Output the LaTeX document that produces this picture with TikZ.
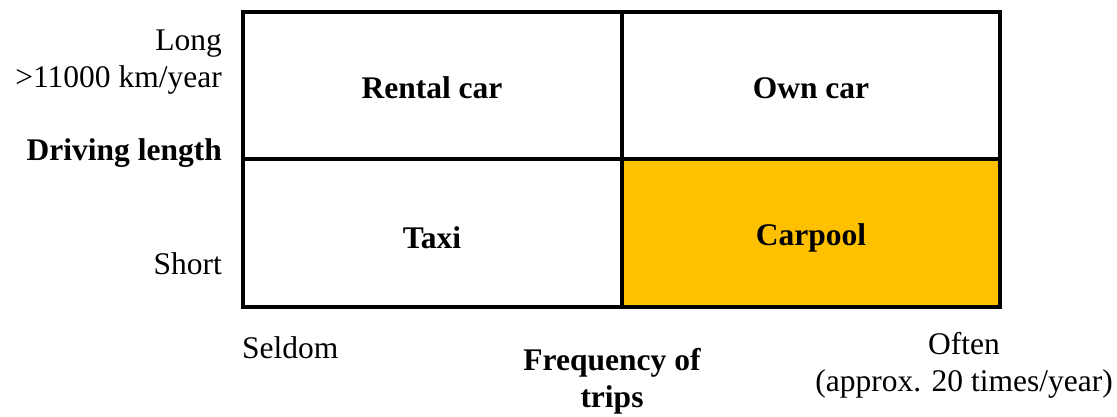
\documentclass[tikz,border=0pt]{standalone}
\usepackage{fontspec}
\setmainfont{Liberation Serif}
\definecolor{carpool}{HTML}{FFC000}
\begin{document}
\begin{tikzpicture}[x=1pt,y=-1pt,
  txt/.style={inner sep=0pt,font=\fontsize{31.5}{37}\selectfont},
  btxt/.style={txt,font=\fontsize{31.5}{37}\selectfont\bfseries},
  cell/.style={draw=black,line width=4pt}]
\useasboundingbox (0,0) rectangle (1117,417);
\fill[carpool] (622,159) rectangle (1000,307);
\draw[cell] (243,12) rectangle (1000,307);
\draw[cell] (622,12) -- (622,307);
\draw[cell] (243,159) -- (1000,159);
\node[btxt] (rc) at (432,88) {Rental car};
\node[btxt] (oc) at (811,88) {Own car};
\node[btxt] (tx) at (432,238) {Taxi};
\node[btxt] (cp) at (811,238) {Carpool};
\node[txt,anchor=east,align=right] (long) at (222,62) {Long\\>11000 km/year};
\node[btxt,anchor=east] (dl) at (222,153) {Driving length};
\node[txt,anchor=east] (sh) at (222,264) {Short};
\node[txt,anchor=west] (sel) at (242,348) {Seldom};
\node[btxt,align=center] (fr) at (612,381) {Frequency of\\trips};
\node[txt,align=center,anchor=east] (of) at (1113,365) {Often\\(approx. 20 times/year)};
\end{tikzpicture}
\end{document}
